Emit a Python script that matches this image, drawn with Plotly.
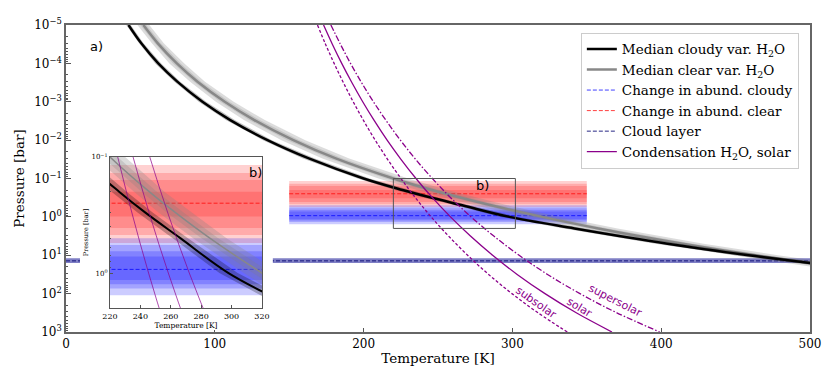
import plotly.graph_objects as go

# median T-P profiles (pressure in bar, temperature in K)
pressure = [1e-5, 3e-5, 1e-4, 3e-4, 1e-3, 3e-3, 1e-2, 3e-2, 0.1, 0.2, 0.3, 0.5, 1, 2, 5, 10, 16, 20]
t_cloudy = [42, 50.6, 62.0, 74.8, 91.7, 110.4, 135.4, 163.2, 200, 226.2, 243.1, 266.3, 298, 341.7, 404.2, 458.7, 500, 521]
t_clear = [52, 61.7, 74.5, 88.4, 106.7, 126.6, 152.8, 181.3, 220, 246, 262.9, 285.7, 320, 357.7, 414.5, 463.4, 500, 518]
sd_cloudy = [1.5, 1.5, 2, 2, 2.5, 3, 3, 4, 4, 5, 5, 5, 6, 7, 8, 9, 10, 10]
sd_clear = [4, 4, 5, 5, 6, 7, 8, 9, 10, 10, 11, 11, 12, 13, 14, 15, 16, 16]

# H2O condensation curves
p_cond = [1e-5, 3.16e-5, 1e-4, 3.16e-4, 1e-3, 3.16e-3, 1e-2, 3.16e-2, 0.1, 0.316, 1, 3.16, 10, 31.6, 100, 316, 1000]
t_subsolar = [169.0, 174.4, 180.2, 186.4, 193.0, 200.1, 207.8, 216.1, 225.1, 234.8, 245.4, 257.1, 269.9, 284.0, 299.7, 317.2, 336.9]
t_solar = [173.1, 179.0, 185.3, 192.1, 199.4, 207.3, 215.8, 225.1, 235.2, 246.2, 258.4, 271.8, 286.7, 303.2, 321.9, 342.9, 366.9]
t_supersolar = [178.0, 184.4, 191.2, 198.6, 206.6, 215.3, 224.7, 234.9, 246.2, 258.5, 272.2, 287.5, 304.5, 323.6, 345.4, 370.2, 399.0]

# change in abundance (pressure levels and nested credible ranges)
band_T = [150, 350]
p_red = 0.25
red_lo = [0.117, 0.137, 0.158, 0.199]
red_hi = [0.55, 0.47, 0.41, 0.325]
p_blue = 0.93
blue_lo = [0.50, 0.573, 0.65, 0.72]
blue_hi = [1.55, 1.36, 1.25, 1.15]

# cloud layer
T_full = [0, 500]
p_cloud = 14
cloud_lo, cloud_hi = 12, 16

# zoom box
box_T = [220, 302]
box_p = [0.1, 2]

SERIF = "DejaVu Serif"
PURPLE = "#8b008b"

fig = go.Figure()


def rect(T, lo, hi):
    return [T[0], T[1], T[1], T[0], T[0]], [lo, lo, hi, hi, lo]


def envelope(t, sd, p):
    x = [a - s for a, s in zip(t, sd)] + [a + s for a, s in zip(t, sd)][::-1]
    return x, list(p) + list(p)[::-1]


def add_all(xa, ya, main):
    # abundance bands
    for lo, hi in zip(red_lo, red_hi):
        x, y = rect(band_T, lo, hi)
        fig.add_trace(go.Scatter(x=x, y=y, fill="toself", mode="none", fillcolor="rgba(255,0,0,0.18)",
                                 showlegend=False, hoverinfo="skip", xaxis=xa, yaxis=ya))
    for lo, hi in zip(blue_lo, blue_hi):
        x, y = rect(band_T, lo, hi)
        fig.add_trace(go.Scatter(x=x, y=y, fill="toself", mode="none", fillcolor="rgba(0,0,255,0.2)",
                                 showlegend=False, hoverinfo="skip", xaxis=xa, yaxis=ya))
    fig.add_trace(go.Scatter(x=band_T, y=[p_blue, p_blue], mode="lines",
                             line=dict(color="rgba(0,0,255,0.75)", width=1, dash="4px,2px"),
                             name="Change in abund. cloudy", showlegend=main, legendrank=3,
                             xaxis=xa, yaxis=ya))
    fig.add_trace(go.Scatter(x=band_T, y=[p_red, p_red], mode="lines",
                             line=dict(color="rgba(255,0,0,0.75)", width=1, dash="4px,2px"),
                             name="Change in abund. clear", showlegend=main, legendrank=4,
                             xaxis=xa, yaxis=ya))
    if main:
        x, y = rect(T_full, cloud_lo, cloud_hi)
        fig.add_trace(go.Scatter(x=x, y=y, fill="toself", mode="none", fillcolor="rgba(0,0,139,0.5)",
                                 showlegend=False, hoverinfo="skip", xaxis=xa, yaxis=ya))
        fig.add_trace(go.Scatter(x=T_full, y=[p_cloud, p_cloud], mode="lines",
                                 line=dict(color="rgba(0,0,110,0.85)", width=1, dash="4px,2px"),
                                 name="Cloud layer", showlegend=True, legendrank=5, xaxis=xa, yaxis=ya))
    # clear profile
    x, y = envelope(t_clear, sd_clear, pressure)
    fig.add_trace(go.Scatter(x=x, y=y, fill="toself", mode="none", fillcolor="rgba(128,128,128,0.28)",
                             showlegend=False, hoverinfo="skip", xaxis=xa, yaxis=ya))
    x, y = envelope(t_clear, [s * 0.5 for s in sd_clear], pressure)
    fig.add_trace(go.Scatter(x=x, y=y, fill="toself", mode="none", fillcolor="rgba(128,128,128,0.25)",
                             showlegend=False, hoverinfo="skip", xaxis=xa, yaxis=ya))
    fig.add_trace(go.Scatter(x=t_clear, y=pressure, mode="lines",
                             line=dict(color="#888888", width=2.5 if main else 1.5, shape="spline"),
                             name="Median clear var. H<sub>2</sub>O", showlegend=main, legendrank=2,
                             xaxis=xa, yaxis=ya))
    # cloudy profile
    x, y = envelope(t_cloudy, sd_cloudy, pressure)
    fig.add_trace(go.Scatter(x=x, y=y, fill="toself", mode="none", fillcolor="rgba(0,0,0,0.25)",
                             showlegend=False, hoverinfo="skip", xaxis=xa, yaxis=ya))
    fig.add_trace(go.Scatter(x=t_cloudy, y=pressure, mode="lines",
                             line=dict(color="black", width=2.5 if main else 2, shape="spline"),
                             name="Median cloudy var. H<sub>2</sub>O", showlegend=main, legendrank=1,
                             xaxis=xa, yaxis=ya))
    # condensation curves
    dashes = ["3px,2px", "solid", "6px,2px,1.5px,2px"] if main else ["solid"] * 3
    for t, d, nm in zip([t_subsolar, t_solar, t_supersolar], dashes, ["subsolar", "solar", "supersolar"]):
        fig.add_trace(go.Scatter(x=t, y=p_cond, mode="lines",
                                 line=dict(color=PURPLE if main else "rgba(139,0,139,0.7)",
                                           width=1.3 if main else 1, dash=d, shape="spline"),
                                 name="Condensation H<sub>2</sub>O, solar", showlegend=(main and nm == "solar"),
                                 legendrank=6, xaxis=xa, yaxis=ya))


add_all("x", "y", True)

# zoom box on main panel
x, y = rect(box_T, box_p[0], box_p[1])
fig.add_trace(go.Scatter(x=x, y=y, mode="lines", line=dict(color="#555555", width=1),
                         showlegend=False, hoverinfo="skip", xaxis="x", yaxis="y"))

# white cover behind the inset (its own subplot background)
fig.add_trace(go.Scatter(x=[], y=[], xaxis="x2", yaxis="y2", showlegend=False))

add_all("x3", "y3", False)

tick_font = dict(family=SERIF, size=12, color="black")
minor_main = [m * 10 ** k for k in range(-5, 3) for m in range(2, 10)]
minor_inset = [0.2, 0.3, 0.4, 0.5, 0.6, 0.7, 0.8, 0.9, 2]

# page body has an 8px margin, so the figure is made 8px smaller each way
fig.update_layout(
    width=822, height=373,
    margin=dict(l=58, r=20, t=17, b=49),
    paper_bgcolor="white", plot_bgcolor="white",
    font=dict(family=SERIF, size=13, color="black"),
    xaxis=dict(domain=[0, 1], range=[0, 500], tickvals=[0, 100, 200, 300, 400, 500],
               ticks="inside", ticklen=4, tickcolor="#555", showline=True, mirror=True,
               linecolor="#666", linewidth=1.5, showgrid=False, zeroline=False, automargin=False,
               tickfont=tick_font, title=dict(text="Temperature [K]", font=dict(size=13.5), standoff=3)),
    yaxis=dict(domain=[0, 1], type="log", range=[3, -5],
               tickvals=[1e-5, 1e-4, 1e-3, 1e-2, 1e-1, 1, 10, 100, 1000],
               ticktext=["10<sup>\u22125</sup>", "10<sup>\u22124</sup>", "10<sup>\u22123</sup>",
                         "10<sup>\u22122</sup>", "10<sup>\u22121</sup>", "10<sup>0</sup>",
                         "10<sup>1</sup>", "10<sup>2</sup>", "10<sup>3</sup>"],
               ticks="inside", ticklen=5, tickcolor="#555", showline=True, mirror=True,
               linecolor="#666", linewidth=1.5, showgrid=False, zeroline=False, automargin=False,
               minor=dict(tickvals=minor_main, ticks="inside", ticklen=2.5, tickcolor="#555"),
               tickfont=tick_font, title=dict(text="Pressure [bar]", font=dict(size=13.5), standoff=6)),
    xaxis2=dict(domain=[0.0188, 0.278], range=[0, 1], visible=False, anchor="y2", automargin=False),
    yaxis2=dict(domain=[0.0065, 0.593], range=[0, 1], visible=False, anchor="x2", automargin=False),
    xaxis3=dict(domain=[0.0591, 0.2634], range=[220, 320], anchor="y3",
                tickvals=[220, 240, 260, 280, 300, 320], ticks="inside", ticklen=3, tickcolor="#555",
                showline=True, mirror=True, linecolor="#555", linewidth=1, showgrid=False, zeroline=False,
                automargin=False, tickfont=dict(family=SERIF, size=8),
                title=dict(text="Temperature [K]", font=dict(size=7.5), standoff=2)),
    yaxis3=dict(domain=[0.0782, 0.570], type="log", range=[0.301, -1], anchor="x3",
                tickvals=[0.1, 1], ticktext=["10<sup>\u22121</sup>", "10<sup>0</sup>"],
                ticks="inside", ticklen=3, tickcolor="#555",
                showline=True, mirror=True, linecolor="#555", linewidth=1, showgrid=False, zeroline=False,
                automargin=False,
                minor=dict(tickvals=minor_inset, ticks="inside", ticklen=1.5, tickcolor="#555"),
                tickfont=dict(family=SERIF, size=7),
                title=dict(text="Pressure [bar]", font=dict(size=6.5), standoff=2)),
    legend=dict(x=0.692, y=0.975, xanchor="left", yanchor="top", bgcolor="white",
                bordercolor="#cccccc", borderwidth=1, font=dict(family=SERIF, size=13.5),
                tracegroupgap=0, itemwidth=30),
    showlegend=True,
)

lab_font = dict(family="DejaVu Sans", size=13, color="black")
fig.add_annotation(text="a)", x=0.0296, y=0.961, xref="paper", yref="paper", showarrow=False, font=lab_font)
fig.add_annotation(text="b)", x=280, y=-0.82, xref="x", yref="y", showarrow=False, font=lab_font)
fig.add_annotation(text="b)", x=0.243, y=0.521, xref="paper", yref="paper", showarrow=False, font=lab_font)

cond_font = dict(family="DejaVu Sans", size=11, color=PURPLE)
fig.add_annotation(text="subsolar", x=316, y=2.22, xref="x", yref="y", showarrow=False, textangle=35, font=cond_font)
fig.add_annotation(text="solar", x=345, y=2.35, xref="x", yref="y", showarrow=False, textangle=31, font=cond_font)
fig.add_annotation(text="supersolar", x=369, y=2.19, xref="x", yref="y", showarrow=False, textangle=27, font=cond_font)

fig.write_html("out.html")
